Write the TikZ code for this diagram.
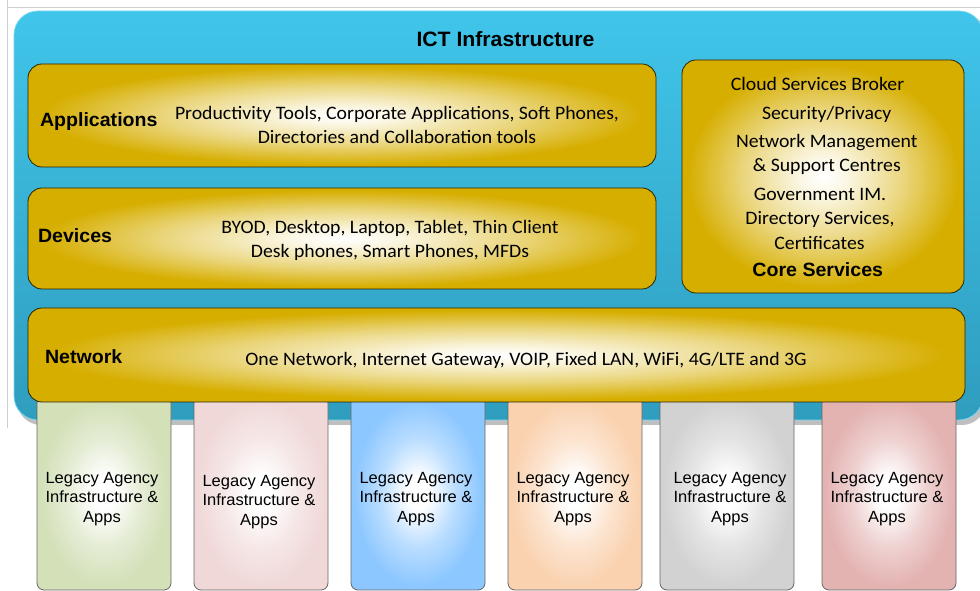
\documentclass[tikz,border=0pt]{standalone}
\usepackage{fontspec}
\setmainfont{Carlito}[FakeStretch=1.04]
\newfontfamily\arialfont{Liberation Sans}[FakeStretch=1.02]

\definecolor{gold}{HTML}{D6AE00}
\definecolor{goldedge}{HTML}{2B2300}
\definecolor{skytop}{HTML}{40C5EA}
\definecolor{skybot}{HTML}{2F9DBE}
\definecolor{skyrim}{HTML}{7AD6EF}
\definecolor{framegray}{HTML}{CFCFCF}
\definecolor{lgreen}{HTML}{D3E0B8}
\definecolor{lpink}{HTML}{F0D8D8}
\definecolor{lblue}{HTML}{8CC7FF}
\definecolor{lpeach}{HTML}{FAD2B0}
\definecolor{lgray}{HTML}{D2D2D2}
\definecolor{lrose}{HTML}{E3B3B2}

\pgfdeclareradialshading{goldglow}{\pgfpoint{0bp}{0bp}}{%
  color(0bp)=(white); color(4bp)=(white!90!gold); color(14bp)=(white!50!gold);
  color(24bp)=(gold); color(50bp)=(gold)}
\newcommand\legacyglow[2]{%
  \pgfdeclareradialshading{#1}{\pgfpoint{0bp}{0bp}}{%
    color(0bp)=(white); color(4bp)=(white); color(14bp)=(white!40!#2);
    color(24bp)=(#2); color(50bp)=(#2)}}
\legacyglow{glowgreen}{lgreen}
\legacyglow{glowpink}{lpink}
\legacyglow{glowblue}{lblue}
\legacyglow{glowpeach}{lpeach}
\legacyglow{glowgray}{lgray}
\legacyglow{glowrose}{lrose}

\begin{document}
\begin{tikzpicture}[x=1pt,y=1pt,
  every node/.style={inner sep=0pt, outer sep=0pt},
  goldbox/.style={draw=goldedge, line width=0.8pt, rounded corners=14pt,
    shade, shading=goldglow},
  legacybox/.style={draw=black!60, line width=0.8pt, rounded corners=7pt,
    shade, minimum width=134pt, minimum height=194pt},
  headlabel/.style={font=\arialfont\bfseries\fontsize{19.2}{19.2}\selectfont, anchor=base west},
  itemtext/.style={font=\fontsize{19}{19}\selectfont, anchor=base},
  legacytext/.style={font=\arialfont\fontsize{16.2}{16.2}\selectfont, anchor=base}
]
\useasboundingbox (0,0) rectangle (980,591);
\clip (0,0) rectangle (980,591);

% light frame lines of the page
\draw[framegray, line width=0.8pt] (7,591) -- (7,163);
\draw[framegray, line width=0.8pt] (7,584) -- (980,584);

% outer blue panel with its shadow
\fill[black, opacity=0.25, rounded corners=24pt] (17,166) rectangle (986,578);
\node[draw=skyrim, line width=0.8pt, rounded corners=24pt,
  top color=skytop, bottom color=skybot,
  minimum width=969pt, minimum height=409pt] (ict) at (498.5,375.5) {};
\node[font=\arialfont\bfseries\fontsize{20.8}{20.8}\selectfont, anchor=base]
  (ictlabel) at (505.5,544) {ICT Infrastructure};

% legacy agency columns (drawn beneath the network band)
\foreach \nm/\cx/\tx/\sh/\by in {
  leg1/104/102/glowgreen/0, leg2/261/259/glowpink/-2.5, leg3/418/416/glowblue/0,
  leg4/575/573/glowpeach/0, leg5/727/730/glowgray/0, leg6/889/887/glowrose/0}{
  \node[legacybox, shading=\sh] (\nm) at (\cx,98) {};
  \node[legacytext] (\nm a) at (\tx,107.2+\by) {Legacy Agency};
  \node[legacytext] (\nm b) at (\tx,88.2+\by) {Infrastructure \&};
  \node[legacytext] (\nm c) at (\tx,68.2+\by) {Apps};
}

% applications band
\node[goldbox, minimum width=628pt, minimum height=103pt] (apps) at (342,475.5) {};
\node[headlabel] (appslabel) at (40,464.5) {Applications};
\node[itemtext] (apps1) at (397,471.5) {Productivity Tools, Corporate Applications, Soft Phones,};
\node[itemtext] (apps2) at (397,447.5) {Directories and Collaboration tools};

% devices band
\node[goldbox, minimum width=628pt, minimum height=101pt] (dev) at (342,352.5) {};
\node[headlabel] (devlabel) at (38,348.5) {Devices};
\node[itemtext] (dev1) at (390,357.3) {BYOD, Desktop, Laptop, Tablet, Thin Client};
\node[itemtext] (dev2) at (390,333.3) {Desk phones, Smart Phones, MFDs};

% core services block
\node[goldbox, minimum width=282pt, minimum height=233pt] (core) at (823,414.5) {};
\node[itemtext] (core1) at (817.5,500.7) {Cloud Services Broker};
\node[itemtext] (core2) at (826.7,471) {Security/Privacy};
\node[itemtext] (core3) at (826.7,443.3) {Network Management};
\node[itemtext] (core4) at (826.8,419.3) {\& Support Centres};
\node[itemtext] (core5) at (820,390) {Government IM.};
\node[itemtext] (core6) at (820,366) {Directory Services,};
\node[itemtext] (core7) at (819.5,341.7) {Certificates};
\node[font=\arialfont\bfseries\fontsize{19.2}{19.2}\selectfont, anchor=base]
  (corelabel) at (817.8,314.5) {Core Services};

% network band
\node[goldbox, minimum width=937pt, minimum height=94pt] (net) at (496.5,236) {};
\node[headlabel] (netlabel) at (45,227) {Network};
\node[itemtext] (net1) at (526,225) {One Network, Internet Gateway, VOIP, Fixed LAN, WiFi, 4G/LTE and 3G};
\end{tikzpicture}
\end{document}
